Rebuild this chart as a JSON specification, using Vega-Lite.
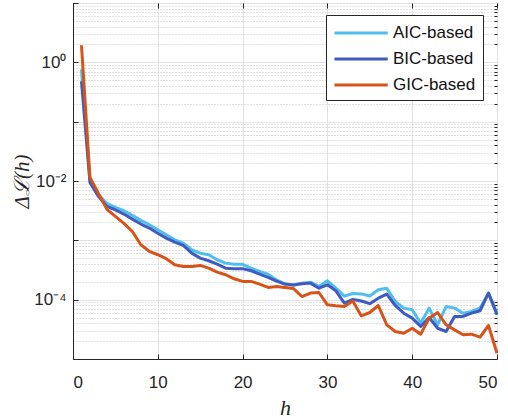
{
  "$schema": "https://vega.github.io/schema/vega-lite/v6.json",
  "width": 424,
  "height": 356,
  "autosize": {"type": "none"},
  "padding": {"left": 73, "top": 3, "right": 11, "bottom": 60},
  "background": "white",
  "data": {
    "values": [
      {"h": 1, "AIC-based": 0.762, "BIC-based": 0.478, "GIC-based": 1.94},
      {"h": 2, "AIC-based": 0.0102, "BIC-based": 0.00947, "GIC-based": 0.0115},
      {"h": 3, "AIC-based": 0.00594, "BIC-based": 0.0055, "GIC-based": 0.00618},
      {"h": 4, "AIC-based": 0.00419, "BIC-based": 0.00373, "GIC-based": 0.00332},
      {"h": 5, "AIC-based": 0.00359, "BIC-based": 0.00326, "GIC-based": 0.00253},
      {"h": 6, "AIC-based": 0.00316, "BIC-based": 0.00277, "GIC-based": 0.00193},
      {"h": 7, "AIC-based": 0.00263, "BIC-based": 0.00228, "GIC-based": 0.00141},
      {"h": 8, "AIC-based": 0.00217, "BIC-based": 0.00188, "GIC-based": 0.000843},
      {"h": 9, "AIC-based": 0.00183, "BIC-based": 0.00161, "GIC-based": 0.00065},
      {"h": 10, "AIC-based": 0.00151, "BIC-based": 0.00132, "GIC-based": 0.000572},
      {"h": 11, "AIC-based": 0.00124, "BIC-based": 0.00109, "GIC-based": 0.00049},
      {"h": 12, "AIC-based": 0.00102, "BIC-based": 0.000933, "GIC-based": 0.000388},
      {"h": 13, "AIC-based": 0.000897, "BIC-based": 0.00082, "GIC-based": 0.000363},
      {"h": 14, "AIC-based": 0.000694, "BIC-based": 0.000608, "GIC-based": 0.000363},
      {"h": 15, "AIC-based": 0.000608, "BIC-based": 0.000501, "GIC-based": 0.000378},
      {"h": 16, "AIC-based": 0.000572, "BIC-based": 0.000453, "GIC-based": 0.00034},
      {"h": 17, "AIC-based": 0.000471, "BIC-based": 0.000397, "GIC-based": 0.000291},
      {"h": 18, "AIC-based": 0.000413, "BIC-based": 0.00034, "GIC-based": 0.000263},
      {"h": 19, "AIC-based": 0.000397, "BIC-based": 0.000333, "GIC-based": 0.000225},
      {"h": 20, "AIC-based": 0.000395, "BIC-based": 0.000333, "GIC-based": 0.000203},
      {"h": 21, "AIC-based": 0.00034, "BIC-based": 0.000307, "GIC-based": 0.000203},
      {"h": 22, "AIC-based": 0.000299, "BIC-based": 0.000269, "GIC-based": 0.000183},
      {"h": 23, "AIC-based": 0.000269, "BIC-based": 0.000237, "GIC-based": 0.000161},
      {"h": 24, "AIC-based": 0.000215, "BIC-based": 0.000205, "GIC-based": 0.000167},
      {"h": 25, "AIC-based": 0.000183, "BIC-based": 0.000183, "GIC-based": 0.000161},
      {"h": 26, "AIC-based": 0.000177, "BIC-based": 0.000177, "GIC-based": 0.000154},
      {"h": 27, "AIC-based": 0.00019, "BIC-based": 0.000185, "GIC-based": 0.000113},
      {"h": 28, "AIC-based": 0.000197, "BIC-based": 0.00019, "GIC-based": 0.000129},
      {"h": 29, "AIC-based": 0.000167, "BIC-based": 0.000156, "GIC-based": 0.000132},
      {"h": 30, "AIC-based": 0.000208, "BIC-based": 0.000178, "GIC-based": 0.000082},
      {"h": 31, "AIC-based": 0.000156, "BIC-based": 0.000141, "GIC-based": 0.0000789},
      {"h": 32, "AIC-based": 0.000115, "BIC-based": 0.0000873, "GIC-based": 0.0000768},
      {"h": 33, "AIC-based": 0.000127, "BIC-based": 0.000101, "GIC-based": 0.000095},
      {"h": 34, "AIC-based": 0.000125, "BIC-based": 0.000095, "GIC-based": 0.0000531},
      {"h": 35, "AIC-based": 0.000115, "BIC-based": 0.0000857, "GIC-based": 0.0000608},
      {"h": 36, "AIC-based": 0.000147, "BIC-based": 0.000106, "GIC-based": 0.0000798},
      {"h": 37, "AIC-based": 0.000156, "BIC-based": 0.000124, "GIC-based": 0.0000377},
      {"h": 38, "AIC-based": 0.0000933, "BIC-based": 0.0000798, "GIC-based": 0.0000291},
      {"h": 39, "AIC-based": 0.000072, "BIC-based": 0.0000592, "GIC-based": 0.0000272},
      {"h": 40, "AIC-based": 0.0000676, "BIC-based": 0.0000488, "GIC-based": 0.000033},
      {"h": 41, "AIC-based": 0.0000402, "BIC-based": 0.0000353, "GIC-based": 0.0000262},
      {"h": 42, "AIC-based": 0.000072, "BIC-based": 0.0000501, "GIC-based": 0.0000488},
      {"h": 43, "AIC-based": 0.0000377, "BIC-based": 0.000033, "GIC-based": 0.0000608},
      {"h": 44, "AIC-based": 0.0000768, "BIC-based": 0.0000291, "GIC-based": 0.0000377},
      {"h": 45, "AIC-based": 0.000072, "BIC-based": 0.0000521, "GIC-based": 0.000031},
      {"h": 46, "AIC-based": 0.0000592, "BIC-based": 0.0000521, "GIC-based": 0.0000256},
      {"h": 47, "AIC-based": 0.0000632, "BIC-based": 0.0000592, "GIC-based": 0.0000262},
      {"h": 48, "AIC-based": 0.000072, "BIC-based": 0.000065, "GIC-based": 0.0000233},
      {"h": 49, "AIC-based": 0.000129, "BIC-based": 0.000129, "GIC-based": 0.0000367},
      {"h": 50, "AIC-based": 0.0000592, "BIC-based": 0.0000556, "GIC-based": 0.0000125}
    ]
  },
  "transform": [
    {"fold": ["AIC-based", "BIC-based", "GIC-based"], "as": ["method", "value"]}
  ],
  "layer": [
    {
      "mark": {"type": "point", "opacity": 0},
      "encoding": {
        "x": {
          "field": "h", "type": "quantitative",
          "scale": {"domain": [0, 50], "nice": false},
          "axis": {"orient": "top", "values": [0, 10, 20, 30, 40, 50], "labels": false, "grid": false, "domain": false, "tickSize": -5, "tickColor": "#262626", "title": null}
        },
        "y": {
          "field": "value", "type": "quantitative",
          "scale": {"type": "log", "domain": [0.00001, 10], "nice": false},
          "axis": {
            "orient": "right",
            "values": [0.00002, 0.00003, 0.00004, 0.00005, 0.00006, 0.00007, 0.00008, 0.00009,
                       0.0002, 0.0003, 0.0004, 0.0005, 0.0006, 0.0007, 0.0008, 0.0009,
                       0.002, 0.003, 0.004, 0.005, 0.006, 0.007, 0.008, 0.009,
                       0.02, 0.03, 0.04, 0.05, 0.06, 0.07, 0.08, 0.09,
                       0.2, 0.3, 0.4, 0.5, 0.6, 0.7, 0.8, 0.9,
                       2, 3, 4, 5, 6, 7, 8, 9],
            "labels": false, "grid": true, "gridDash": [1, 2], "gridColor": "#c4c4c4", "gridWidth": 1,
            "tickSize": -3, "tickColor": "#262626", "domain": false, "title": null
          }
        }
      }
    },
    {
      "mark": {"type": "line", "strokeWidth": 3, "strokeJoin": "round"},
      "encoding": {
        "x": {
          "field": "h", "type": "quantitative",
          "scale": {"domain": [0, 50], "nice": false},
          "axis": {
            "orient": "bottom", "values": [0, 10, 20, 30, 40, 50],
            "grid": true, "gridColor": "#e2e2e2", "gridWidth": 1,
            "tickSize": -5, "tickColor": "#262626", "domain": true, "domainColor": "#262626",
            "labelFont": "Liberation Sans", "labelFontSize": 17, "labelColor": "#262626", "labelPadding": 20,
            "title": "h", "titleFont": "Liberation Serif", "titleFontStyle": "italic", "titleFontWeight": "normal",
            "titleFontSize": 22, "titleColor": "#262626", "titlePadding": 7
          }
        },
        "y": {
          "field": "value", "type": "quantitative",
          "scale": {"type": "log", "domain": [0.00001, 10], "nice": false},
          "axis": {
            "orient": "left", "values": [0.00001, 0.0001, 0.001, 0.01, 0.1, 1, 10],
            "labelExpr": "datum.value == 1 ? '10⁰' : datum.value == 0.01 ? '10⁻²' : datum.value == 0.0001 ? '10⁻⁴' : ''",
            "grid": true, "gridColor": "#e2e2e2", "gridWidth": 1,
            "tickSize": -5, "tickColor": "#262626", "domain": true, "domainColor": "#262626",
            "labelFont": "Liberation Sans", "labelFontSize": 17, "labelColor": "#262626", "labelPadding": 12,
            "title": "Δℒ(h)", "titleFont": "Liberation Serif", "titleFontStyle": "italic", "titleFontWeight": "normal",
            "titleFontSize": 21, "titleColor": "#262626", "titlePadding": 1
          }
        },
        "color": {
          "field": "method", "type": "nominal",
          "scale": {"domain": ["AIC-based", "BIC-based", "GIC-based"], "range": ["#4DBEEE", "#3F5BBF", "#D95319"]},
          "legend": {
            "orient": "none", "legendX": 253, "legendY": 12, "title": null,
            "strokeColor": "#262626", "fillColor": "white", "padding": 7,
            "symbolType": "M-1,0H4.6", "symbolSize": 361, "symbolStrokeWidth": 3,
            "labelFont": "Liberation Sans", "labelFontSize": 17, "labelColor": "#111111",
            "labelOffset": 38, "rowPadding": 7
          }
        }
      }
    }
  ],
  "resolve": {"axis": {"x": "independent", "y": "independent"}},
  "config": {"view": {"stroke": "#262626", "strokeWidth": 1}}
}
